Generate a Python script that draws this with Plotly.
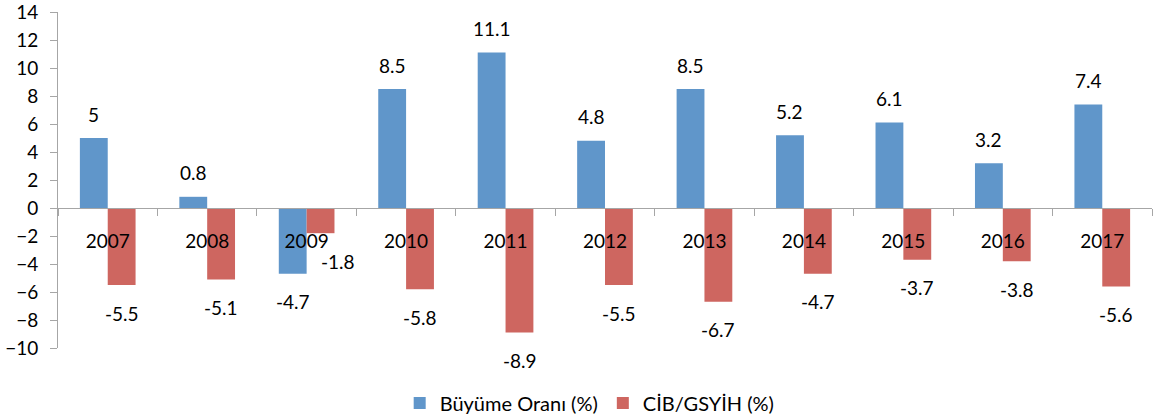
import plotly.graph_objects as go

years = ["2007", "2008", "2009", "2010", "2011", "2012", "2013", "2014", "2015", "2016", "2017"]
growth = [5, 0.8, -4.7, 8.5, 11.1, 4.8, 8.5, 5.2, 6.1, 3.2, 7.4]
cab_gdp = [-5.5, -5.1, -1.8, -5.8, -8.9, -5.5, -6.7, -4.7, -3.7, -3.8, -5.6]
y_ticks = list(range(-10, 15, 2))

BLUE = "#6096CA"
RED = "#CE6660"
FONT = "Lato"
AX = "#A6A6A6"
FS = 19

fig = go.Figure()
fig.add_trace(go.Bar(name="Büyüme Oranı (%)", x=years, y=growth, marker=dict(color=BLUE, line=dict(width=0)), offsetgroup="a"))
fig.add_trace(go.Bar(name="CİB/GSYİH (%)", x=years, y=cab_gdp, marker=dict(color=RED, line=dict(width=0)), offsetgroup="b"))

ann = []
for i, (yr, v) in enumerate(zip(years, growth)):
    ann.append(dict(x=i, y=v, xref="x", yref="y", text=f"{v:g}", showarrow=False,
                    xshift=-14, yshift=(24 if v >= 0 else -28), font=dict(size=FS, color="black", family=FONT)))
for i, (yr, v) in enumerate(zip(years, cab_gdp)):
    xs = 14
    if yr == "2009":
        xs = 31
    ys = -28 if v < 0 else 24
    ann.append(dict(x=i, y=v, xref="x", yref="y", text=f"{v:g}", showarrow=False,
                    xshift=xs, yshift=ys, font=dict(size=FS, color="black", family=FONT)))

fig.update_layout(
    barmode="group",
    bargap=0.44,
    bargroupgap=0,
    width=1153, height=418,
    margin=dict(l=58, r=1, t=12, b=70, autoexpand=False),
    plot_bgcolor="white", paper_bgcolor="white",
    font=dict(family=FONT, size=FS, color="black"),
    showlegend=True,
    legend=dict(orientation="h", x=0.486, xanchor="center", y=-0.164, yanchor="middle",
                font=dict(size=20, family=FONT), itemwidth=30, traceorder="normal"),
    annotations=ann,
    xaxis=dict(anchor="free", position=10/24, showline=True, linecolor=AX, linewidth=1,
               ticks="outside", tickson="boundaries", ticklen=7, tickcolor=AX, automargin=False,
               ticklabelstandoff=16, tickfont=dict(size=FS, family=FONT), showgrid=False),
    yaxis=dict(range=[-10, 14], tickvals=y_ticks, showline=True, linecolor=AX, linewidth=1,
               ticks="outside", ticklen=7, tickcolor=AX, showgrid=False, zeroline=False,
               ticklabelstandoff=8,
               automargin=False, ticklabeloverflow="allow", tickfont=dict(size=FS, family=FONT)),
)
fig.write_html("out.html", config={"displayModeBar": False},
               post_script="document.body.style.margin='0';document.body.style.padding='0';")
